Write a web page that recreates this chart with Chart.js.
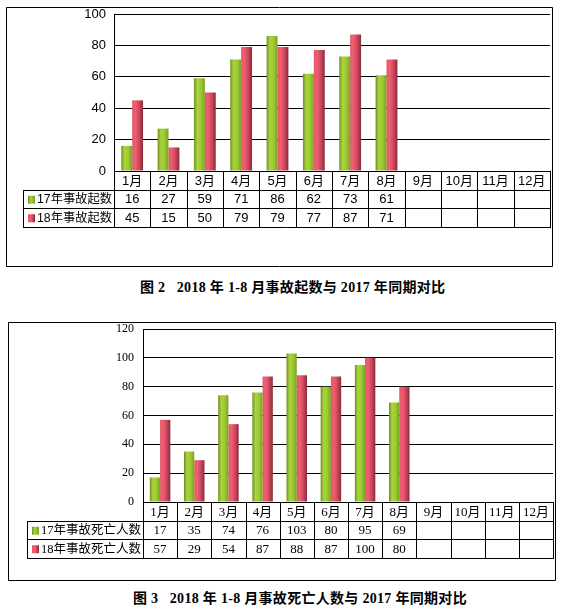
<!DOCTYPE html>
<html>
<head>
<meta charset="utf-8">
<script src="https://cdn.jsdelivr.net/npm/chart.js@4.4.1/dist/chart.umd.min.js"></script>
<style>
  body { margin: 0; background: #fff; width: 567px; height: 610px; position: relative; overflow: hidden; }
  .box { position: absolute; }
  .caption { position: absolute; font-family: "Liberation Serif", "Noto Sans CJK SC", serif; font-weight: bold; font-size: 14px; letter-spacing: 0.3px; white-space: pre; color: #000; }
</style>
</head>
<body>
<div class="box" style="left:6px;top:7px;width:547px;height:260px;"><canvas id="chart1"></canvas></div>
<div class="caption" style="left:140px;top:276px;">图 2   2018 年 1-8 月事故起数与 2017 年同期对比</div>
<div class="box" style="left:8px;top:322px;width:548px;height:259px;"><canvas id="chart2"></canvas></div>
<div class="caption" style="left:133px;top:587px;">图 3   2018 年 1-8 月事故死亡人数与 2017 年同期对比</div>
<script>
// ========== DATOS ==========
const months = ["1月", "2月", "3月", "4月", "5月", "6月", "7月", "8月", "9月", "10月", "11月", "12月"];
const accidents2017 = [16, 27, 59, 71, 86, 62, 73, 61];
const accidents2018 = [45, 15, 50, 79, 79, 77, 87, 71];
const accidentTicks = [0, 20, 40, 60, 80, 100];
const deaths2017 = [17, 35, 74, 76, 103, 80, 95, 69];
const deaths2018 = [57, 29, 54, 87, 88, 87, 100, 80];
const deathTicks = [0, 20, 40, 60, 80, 100, 120];
const seriesNames1 = ["17年事故起数", "18年事故起数"];
const seriesNames2 = ["17年事故死亡人数", "18年事故死亡人数"];

const CAT_PCT = 0.6;
const greenStops = ["#6f8f1e", "#a8d43c", "#9cc934", "#78a022"];
const redStops = ["#e2586a", "#f25d71", "#c9475b", "#8a2a3c"];

function barGradient(stops) {
    return (c) => {
        const chart = c.chart;
        const xs = chart.scales.x;
        if (!chart.chartArea || !xs || c.dataIndex === undefined) return stops[1];
        const colW = xs.width / months.length;
        const center = xs.getPixelForValue(c.dataIndex);
        const half = colW * CAT_PCT / 2;
        const x0 = c.datasetIndex === 0 ? center - half : center;
        const x1 = x0 + half;
        const g = chart.ctx.createLinearGradient(x0, 0, x1, 0);
        g.addColorStop(0, stops[0]);
        g.addColorStop(0.3, stops[1]);
        g.addColorStop(0.65, stops[2]);
        g.addColorStop(1, stops[3]);
        return g;
    };
}

// tabla de datos dibujada bajo el eje
const tablePlugin = {
    id: "dataTable",
    afterDraw(chart, args, opts) {
        const ctx = chart.ctx;
        const a = chart.chartArea;
        const xs = chart.scales.x;
        const h = opts.rowH;
        const x0 = opts.legendLeft;
        const colW = (a.right - a.left) / months.length;
        const B = a.bottom;
        ctx.save();
        ctx.strokeStyle = "#000";
        ctx.lineWidth = 1;
        ctx.beginPath();
        // marco exterior
        ctx.rect(0.5, 0.5, chart.width - 1, chart.height - 1);
        ctx.moveTo(a.left, Math.round(B) + 0.5);
        ctx.lineTo(a.right, Math.round(B) + 0.5);
        for (let r = 1; r <= 3; r++) {
            const y = Math.round(B + r * h) + 0.5;
            ctx.moveTo(x0, y);
            ctx.lineTo(a.right, y);
        }
        ctx.moveTo(x0 + 0.5, Math.round(B + h));
        ctx.lineTo(x0 + 0.5, Math.round(B + 3 * h) + 1);
        for (let i = 0; i <= months.length; i++) {
            const x = Math.round(a.left + i * colW) + 0.5;
            ctx.moveTo(x, Math.round(B));
            ctx.lineTo(x, Math.round(B + 3 * h) + 1);
        }
        ctx.stroke();

        ctx.fillStyle = "#000";
        ctx.font = opts.size + "px " + opts.family;
        ctx.textBaseline = "middle";
        ctx.textAlign = "center";
        months.forEach((m, i) => {
            const cx = xs.getPixelForValue(i);
            ctx.fillText(m, cx, B + h / 2 + 1);
        });
        chart.data.datasets.forEach((ds, d) => {
            const cy = B + h * (d + 1.5) + 1;
            ctx.font = opts.size + "px " + opts.family;
            ctx.textAlign = "center";
            ds.data.forEach((v, i) => {
                ctx.fillText(String(v), xs.getPixelForValue(i), cy);
            });
            const stops = d === 0 ? greenStops : redStops;
            const sx = x0 + opts.swatchX;
            const g = ctx.createLinearGradient(sx, 0, sx + 7, 0);
            g.addColorStop(0, stops[0]);
            g.addColorStop(0.4, stops[1]);
            g.addColorStop(1, stops[3]);
            ctx.fillStyle = g;
            ctx.fillRect(sx, cy - 4, 7, 8);
            ctx.fillStyle = "#000";
            ctx.textAlign = "left";
            // ajustar el rótulo al ancho disponible
            const tx = sx + 9;
            const avail = a.left - tx - 2;
            let size = opts.size;
            ctx.font = size + "px " + opts.family;
            const w = ctx.measureText(ds.label).width;
            if (w > avail) {
                size = size * avail / w;
                ctx.font = size.toFixed(2) + "px " + opts.family;
            }
            ctx.fillText(ds.label, tx, cy);
        });
        ctx.restore();
    },
};

function makeChart(id, series, names, ticks, cfg) {
    const ctx = document.getElementById(id).getContext("2d");
    return new Chart(ctx, {
        type: "bar",
        data: {
            labels: months,
            datasets: [
                { label: names[0], data: series[0], backgroundColor: barGradient(greenStops) },
                { label: names[1], data: series[1], backgroundColor: barGradient(redStops) },
            ],
        },
        options: {
            responsive: true,
            maintainAspectRatio: false,
            animation: false,
            devicePixelRatio: 1,
            categoryPercentage: CAT_PCT,
            barPercentage: 1,
            layout: { padding: { top: cfg.top, right: cfg.right, bottom: cfg.bottom, left: 0 } },
            plugins: {
                legend: { display: false },
                tooltip: { enabled: false },
                dataTable: { rowH: cfg.rowH, legendLeft: cfg.legendLeft, swatchX: cfg.swatchX, size: cfg.tableSize, family: cfg.tableFamily },
            },
            scales: {
                x: { display: false },
                y: {
                    min: ticks[0],
                    max: ticks[ticks.length - 1],
                    afterBuildTicks: (s) => { s.ticks = ticks.map((v) => ({ value: v })); },
                    afterFit: (s) => {
                        s.width = cfg.left;
                        s.paddingTop = 0;
                        s.paddingBottom = 0;
                    },
                    border: { display: true, color: "#000", width: 1 },
                    grid: { color: "#000", lineWidth: 1, drawTicks: false },
                    ticks: { color: "#000", padding: cfg.tickPad, font: cfg.tickFont },
                },
            },
        },
        plugins: [tablePlugin],
    });
}

makeChart("chart1", [accidents2017, accidents2018], seriesNames1, accidentTicks, {
    top: 7, right: 3, bottom: 96, left: 108, rowH: 18.5, legendLeft: 17, swatchX: 5,
    tickPad: 8, tickFont: { family: "'Liberation Sans', 'Noto Sans CJK SC'", size: 13 },
    tableSize: 13, tableFamily: "'Liberation Sans', 'Noto Sans CJK SC'",
});

makeChart("chart2", [deaths2017, deaths2018], seriesNames2, deathTicks, {
    top: 7, right: 3, bottom: 79, left: 135, rowH: 18.5, legendLeft: 19, swatchX: 5,
    tickPad: 9, tickFont: { family: "'Liberation Serif', 'Noto Sans CJK SC'", size: 12 },
    tableSize: 13, tableFamily: "'Liberation Serif', 'Noto Sans CJK SC'",
});
</script>
</body>
</html>
